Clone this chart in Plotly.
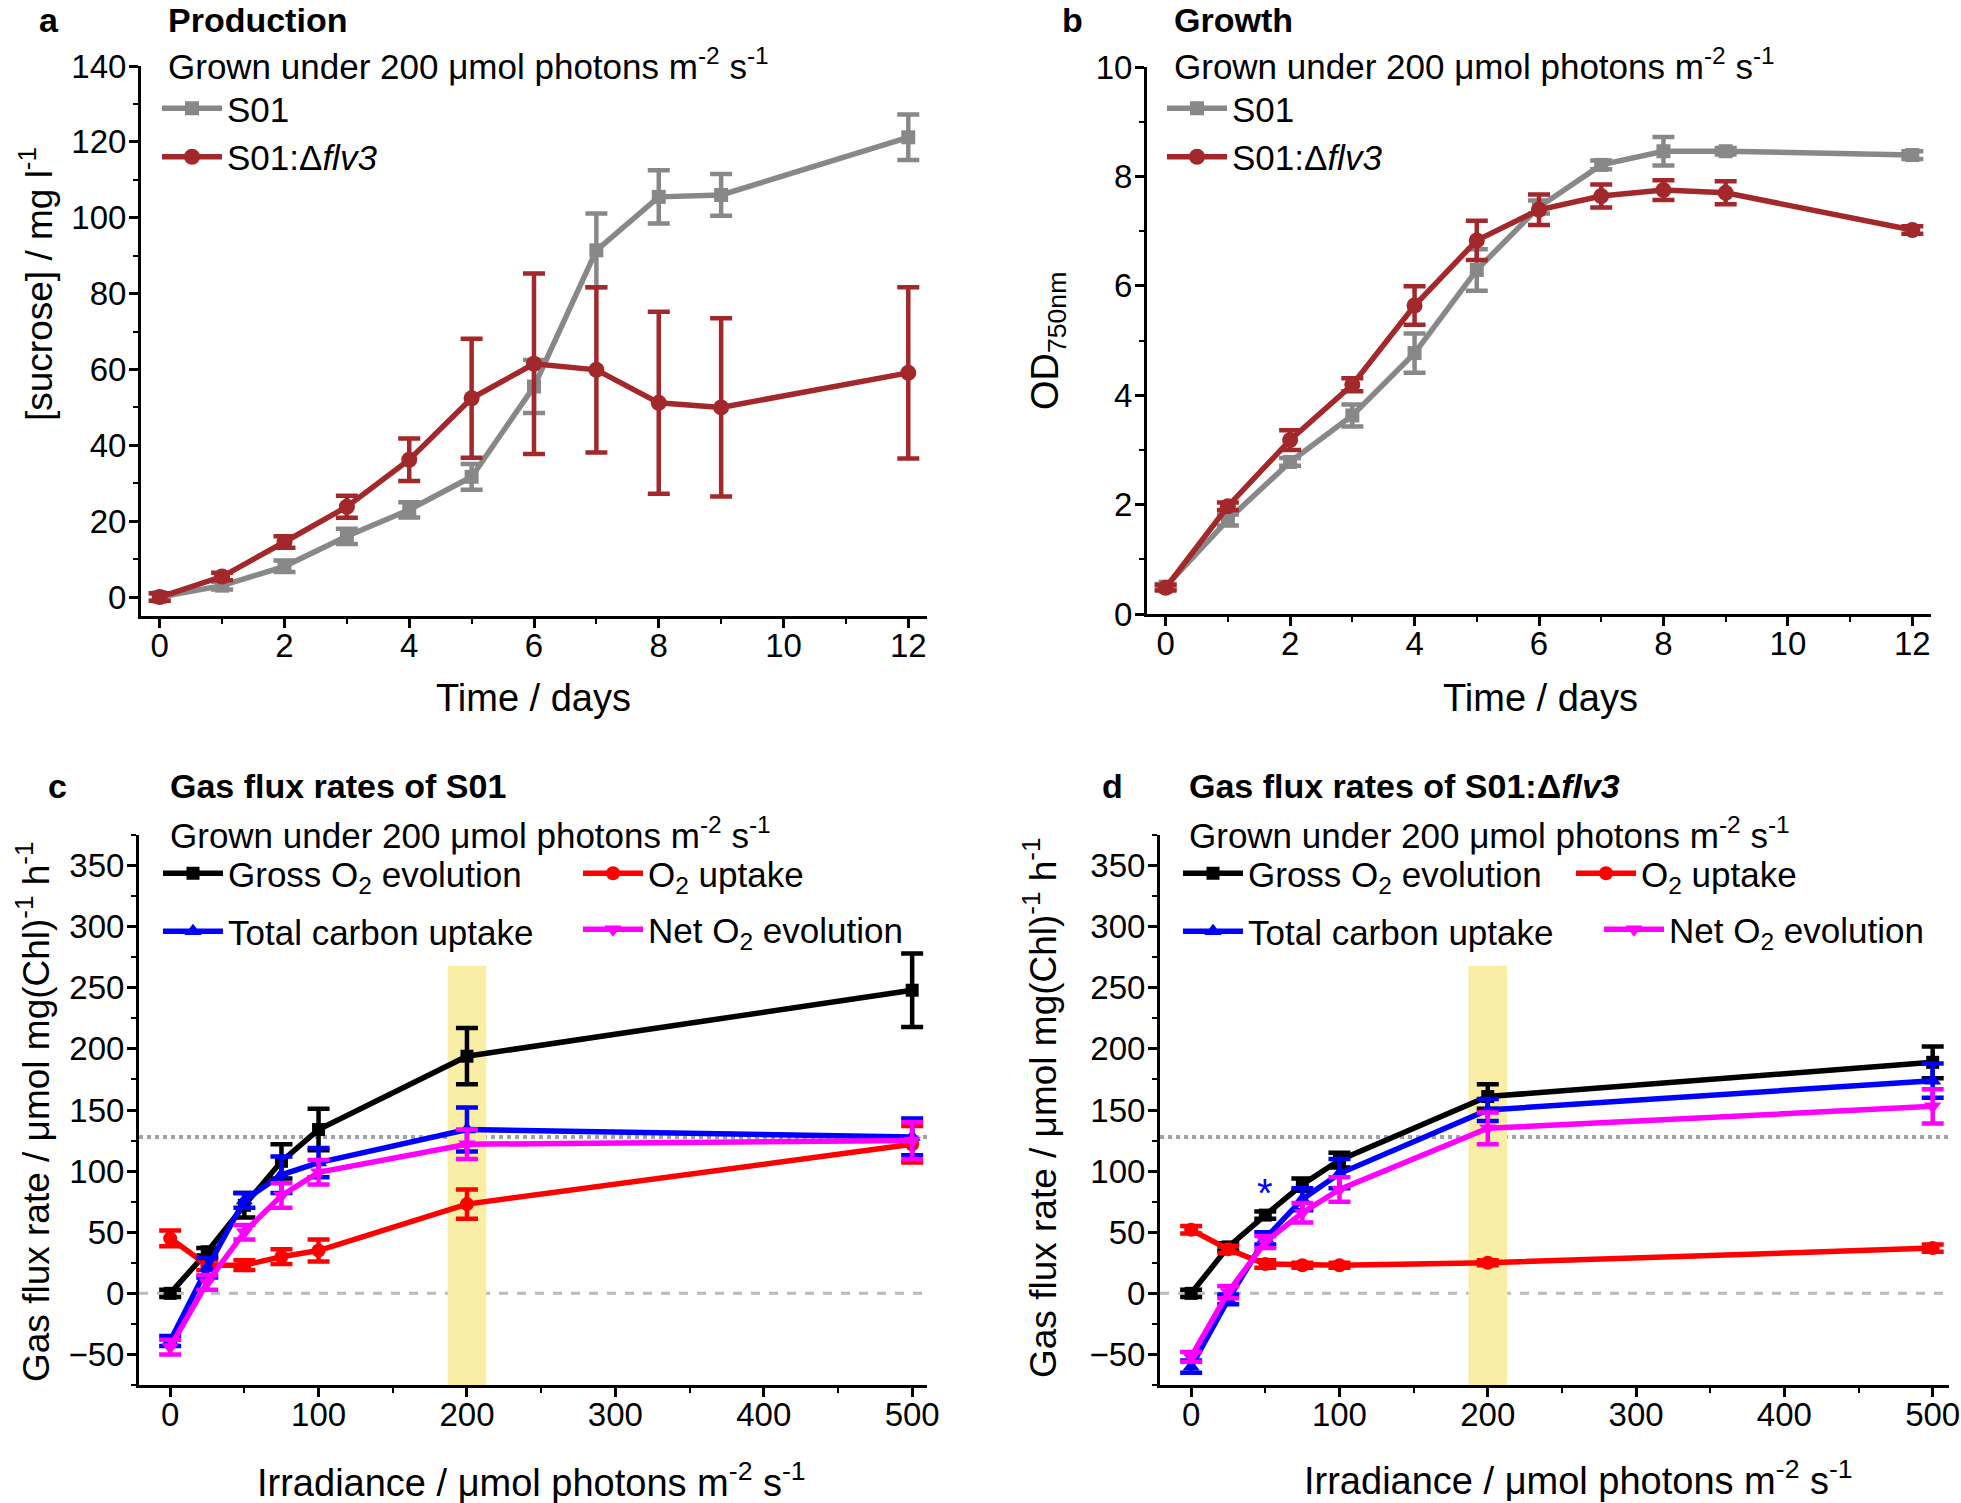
import plotly.graph_objects as go

W, H = 1961, 1503
def px(x): return x / W
def py(y): return 1 - y / H

FONT = "Liberation Sans, Arial, sans-serif"

# ---------------- data ----------------
days = [0, 1, 2, 3, 4, 5, 6, 7, 8, 9, 12]
suc_s01 = [0, 3, 8.1, 16, 23, 31.7, 55.5, 91.4, 105.5, 106, 121.2]
suc_s01_err = [1, 1, 1.5, 2, 2, 3.4, 7, 9.7, 7, 5.5, 6]
suc_flv3 = [0, 5.4, 14.5, 23.8, 36.2, 52.4, 61.5, 59.9, 51.2, 50, 59.1]
suc_flv3_err = [1, 1, 1.5, 2.9, 5.6, 15.7, 23.8, 21.8, 24, 23.5, 22.6]

od_s01 = [0.5, 1.72, 2.78, 3.63, 4.77, 6.29, 7.44, 8.21, 8.46, 8.46, 8.39]
od_s01_err = [0.05, 0.1, 0.07, 0.2, 0.36, 0.38, 0.12, 0.08, 0.26, 0.06, 0.07]
od_flv3 = [0.48, 1.97, 3.18, 4.19, 5.64, 6.83, 7.39, 7.64, 7.75, 7.70, 7.02]
od_flv3_err = [0.05, 0.07, 0.18, 0.12, 0.35, 0.36, 0.28, 0.21, 0.18, 0.21, 0.07]

irr = [0, 25, 50, 75, 100, 200, 500]
c_gross = [0, 34, 72, 108, 134, 194, 248]
c_gross_err = [3, 3, 10, 14, 17, 23, 30]
c_o2up = [45, 23, 23, 30, 35, 73, 122]
c_o2up_err = [6.5, 4, 4, 6, 9, 12, 15]
c_carbon = [-39, 21, 76, 97, 107, 134, 128]
c_carbon_err = [4, 8, 6, 15, 12, 18, 15]
c_net = [-44, 9, 50, 80, 99, 122, 125]
c_net_err = [6, 6, 6, 10, 10, 12, 15]

d_gross = [0, 38, 64, 89, 109, 161, 189]
d_gross_err = [3, 3, 3, 5, 6, 10, 13]
d_o2up = [52, 36, 24, 23, 23, 25, 37]
d_o2up_err = [3, 3, 3, 2, 2, 2, 3]
d_carbon = [-60, -5, 45, 77, 98, 150, 174]
d_carbon_err = [5, 4, 5, 9, 12, 9, 14]
d_net = [-52, 1, 42, 66, 85, 135, 153]
d_net_err = [4, 5, 5, 8, 10, 13, 14]

grown_level = 128     # dotted reference level
band = [187, 213]     # highlighted growth irradiance
band_top = 268
star_pos = (50, 82)

GRAY = "#888888"
DRED = "#a3282b"

fig = go.Figure()

def add(x, y, e, color, symbol, name, xa, ya, legend, size=15):
    fig.add_trace(go.Scatter(
        x=x, y=y, mode="lines+markers", name=name,
        line=dict(color=color, width=5.5),
        marker=dict(color=color, symbol=symbol, size=size),
        error_y=dict(type="data", array=e, color=color, thickness=4.5, width=11),
        xaxis=xa, yaxis=ya, legend=legend))

add(days, suc_s01, suc_s01_err, GRAY, "square", "S01", "x", "y", "legend", 14)
add(days, suc_flv3, suc_flv3_err, DRED, "circle", "S01:Δ<i>flv3</i>", "x", "y", "legend", 16)
add(days, od_s01, od_s01_err, GRAY, "square", "S01", "x2", "y2", "legend2", 14)
add(days, od_flv3, od_flv3_err, DRED, "circle", "S01:Δ<i>flv3</i>", "x2", "y2", "legend2", 16)

add(irr, c_gross, c_gross_err, "black", "square", "Gross O<sub>2</sub> evolution", "x3", "y3", "legend3", 13)
add(irr, c_o2up, c_o2up_err, "#ff0000", "circle", "O<sub>2</sub> uptake", "x3", "y3", "legend4", 14)
add(irr, c_carbon, c_carbon_err, "#0000ff", "triangle-up", "Total carbon uptake", "x3", "y3", "legend5", 15)
add(irr, c_net, c_net_err, "#ff00ff", "triangle-down", "Net O<sub>2</sub> evolution", "x3", "y3", "legend6", 15)

add(irr, d_gross, d_gross_err, "black", "square", "Gross O<sub>2</sub> evolution", "x4", "y4", "legend7", 13)
add(irr, d_o2up, d_o2up_err, "#ff0000", "circle", "O<sub>2</sub> uptake", "x4", "y4", "legend8", 14)
add(irr, d_carbon, d_carbon_err, "#0000ff", "triangle-up", "Total carbon uptake", "x4", "y4", "legend9", 15)
add(irr, d_net, d_net_err, "#ff00ff", "triangle-down", "Net O<sub>2</sub> evolution", "x4", "y4", "legend10", 15)

def axis(domain, rng, dtick, minor, anchor, xdir):
    return dict(domain=domain, range=rng, dtick=dtick, tick0=0, anchor=anchor,
                showline=True, linecolor="black", linewidth=3, mirror=False,
                ticks="outside", ticklen=9, tickwidth=2.5, tickcolor="black",
                ticklabelstandoff=(-11 if xdir else -4),
                minor=dict(ticks="outside", ticklen=5, tickwidth=2, dtick=minor, tickcolor="black"),
                showgrid=False, zeroline=False,
                tickfont=dict(family=FONT, size=33, color="black"))

dom_a_x = [px(141), px(927)]; dom_a_y = [py(616), py(66)]
dom_b_x = [px(1147), px(1931)]; dom_b_y = [py(614), py(67)]
dom_c_x = [px(139), px(927)]; dom_cd_y = [py(1385), py(835)]
dom_d_x = [px(1160), px(1949)]

fig.update_layout(
    xaxis=axis(dom_a_x, [-0.3, 12.3], 2, 1, "y", True),
    yaxis=axis(dom_a_y, [-5, 140], 20, 10, "x", False),
    xaxis2=axis(dom_b_x, [-0.3, 12.3], 2, 1, "y2", True),
    yaxis2=axis(dom_b_y, [0, 10], 2, 1, "x2", False),
    xaxis3=axis(dom_c_x, [-21, 510], 100, 50, "y3", True),
    yaxis3=axis(dom_cd_y, [-75, 375], 50, 25, "x3", False),
    xaxis4=axis(dom_d_x, [-21, 511], 100, 50, "y4", True),
    yaxis4=axis(dom_cd_y, [-75, 375], 50, 25, "x4", False),
)

shapes = []
for xa, ya in (("x3", "y3"), ("x4", "y4")):
    shapes.append(dict(type="rect", xref=xa, yref=ya, x0=band[0], x1=band[1], y0=-75, y1=band_top,
                       fillcolor="#faeda5", line=dict(width=0), layer="below"))
    shapes.append(dict(type="line", xref=xa + " domain", yref=ya, x0=0, x1=1, y0=grown_level, y1=grown_level,
                       line=dict(color="#a0a0a8", width=4, dash="dot"), layer="below"))
    shapes.append(dict(type="line", xref=xa + " domain", yref=ya, x0=0, x1=1, y0=0, y1=0,
                       line=dict(color="#bbbbbb", width=3, dash="dash"), layer="below"))
fig.update_layout(shapes=shapes)

ann = []
def text(x, y, s, size=34, bold=False, xanchor="left", angle=0, color="black"):
    ann.append(dict(x=px(x), y=py(y), xref="paper", yref="paper", text=("<b>%s</b>" % s) if bold else s,
                    showarrow=False, xanchor=xanchor, yanchor="middle", textangle=angle,
                    font=dict(family=FONT, size=size, color=color)))

sub = "Grown under 200 μmol photons m<sup>-2</sup> s<sup>-1</sup>"
# panel a
text(49, 20, "a", 34, True, "center")
text(166, 20, "Production", 34, True)
text(166, 64, sub, 35)
text(533, 698, "Time / days", 38, xanchor="center")
text(36, 284, "[sucrose] / mg l<sup>-1</sup>", 37, xanchor="center", angle=-90)
# panel b
text(1072, 20, "b", 34, True, "center")
text(1172, 20, "Growth", 34, True)
text(1172, 64, sub, 35)
text(1540, 698, "Time / days", 38, xanchor="center")
text(1048, 341, "OD<sub>750nm</sub>", 38, xanchor="center", angle=-90)
# panel c
text(57, 786, "c", 34, True, "center")
text(168, 786, "Gas flux rates of S01", 34, True)
text(168, 833, sub, 35)
text(531, 1480, "Irradiance / μmol photons m<sup>-2</sup> s<sup>-1</sup>", 38, xanchor="center")
text(33, 1112, "Gas flux rate / μmol mg(Chl)<sup>-1</sup> h<sup>-1</sup>", 37, xanchor="center", angle=-90)
# panel d
text(1112, 786, "d", 34, True, "center")
text(1187, 786, "Gas flux rates of S01:Δ<i>flv3</i>", 34, True)
text(1187, 833, sub, 35)
text(1578, 1478, "Irradiance / μmol photons m<sup>-2</sup> s<sup>-1</sup>", 38, xanchor="center")
text(1040, 1108, "Gas flux rate / μmol mg(Chl)<sup>-1</sup> h<sup>-1</sup>", 37, xanchor="center", angle=-90)
ann.append(dict(x=star_pos[0], y=star_pos[1], xref="x4", yref="y4", text="*", showarrow=False,
                font=dict(family=FONT, size=40, color="#0000ff")))
fig.update_layout(annotations=ann)

def leg(x, yc, subscript=False):
    top = yc - (34 if subscript else 30)
    return dict(x=px(x - 9), y=py(top), xanchor="left", yanchor="top", bgcolor="rgba(0,0,0,0)",
                borderwidth=0, font=dict(family=FONT, size=35, color="black"),
                itemwidth=60, tracegroupgap=0, itemclick=False)

fig.update_layout(
    legend=leg(166, 109),
    legend2=leg(1171, 109),
    legend3=leg(167, 878, True),
    legend4=leg(587, 878, True),
    legend5=leg(167, 932),
    legend6=leg(587, 934, True),
    legend7=leg(1187, 878, True),
    legend8=leg(1580, 878, True),
    legend9=leg(1187, 932),
    legend10=leg(1608, 934, True),
)

fig.update_layout(width=W, height=H,
                  margin=dict(l=0, r=0, t=0, b=0, autoexpand=False),
                  paper_bgcolor="white", plot_bgcolor="white", showlegend=True)

fig.write_html("out.html", config={"displayModeBar": False},
               post_script="document.body.style.margin='0px';document.body.style.overflow='hidden';")
